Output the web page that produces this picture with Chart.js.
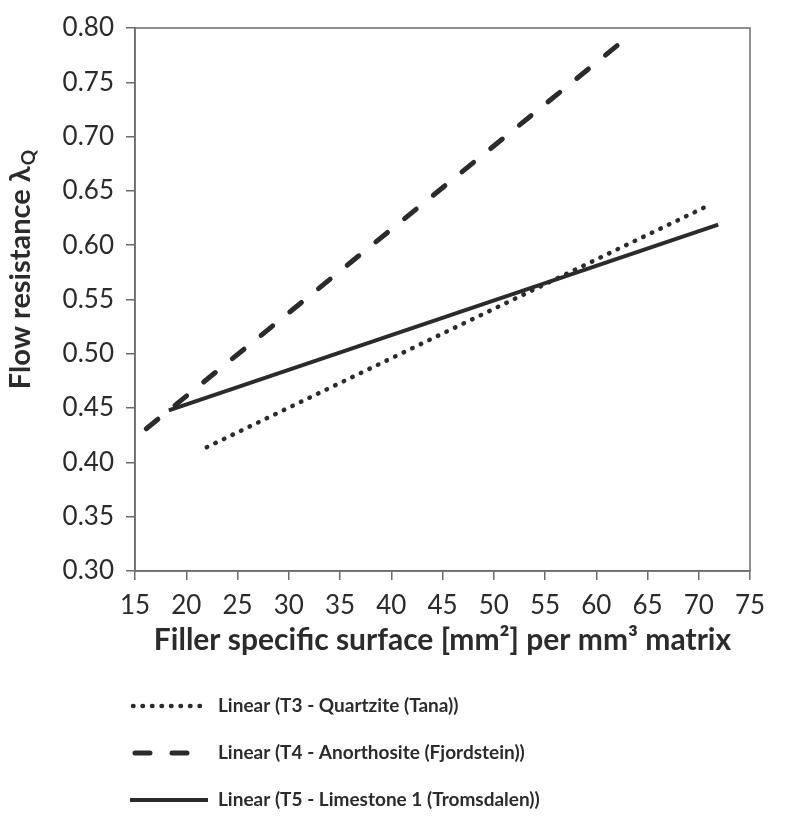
<!DOCTYPE html>
<html>
<head>
<meta charset="utf-8">
<script src="https://cdn.jsdelivr.net/npm/chart.js@4/dist/chart.umd.min.js"></script>
<style>
  html, body { margin: 0; padding: 0; background: #fff; }
  #wrap { width: 789px; height: 820px; }
</style>
</head>
<body>
<div id="wrap"><canvas id="myChart" width="789" height="820"></canvas></div>
<script>
"use strict";

// trendline end points
const seriesLabels = [
    'Linear (T3 - Quartzite (Tana))',
    'Linear (T4 - Anorthosite (Fjordstein))',
    'Linear (T5 - Limestone 1 (Tromsdalen))'
];
const t3X = [22.0, 70.6];
const t3Y = [0.414, 0.635];
const t4X = [16.1, 63.5];
const t4Y = [0.431, 0.795];
const t5X = [18.3, 71.9];
const t5Y = [0.448, 0.619];

const xTicks = [15, 20, 25, 30, 35, 40, 45, 50, 55, 60, 65, 70, 75];
const yTicks = [0.30, 0.35, 0.40, 0.45, 0.50, 0.55, 0.60, 0.65, 0.70, 0.75, 0.80];

const INK = '#2b2b2b';
const AXIS = '#6b6b6b';
const FONT = 'Lato, "Open Sans", sans-serif';

function toPoints(xs, ys) {
    return xs.map((x, i) => ({ x: x, y: ys[i] }));
}

// frame round the plot area, y title with subscript, legend below
const decorations = {
    id: 'decorations',
    afterDraw(chart) {
        const ctx = chart.ctx;
        const a = chart.chartArea;
        ctx.save();
        ctx.strokeStyle = AXIS;
        ctx.lineWidth = 1.5;
        ctx.strokeRect(a.left, a.top, a.right - a.left, a.bottom - a.top);

        // y title
        ctx.translate(21, 270);
        ctx.rotate(-Math.PI / 2);
        ctx.fillStyle = INK;
        ctx.textBaseline = 'middle';
        const main = 'Flow resistance λ';
        ctx.font = 'bold 29px ' + FONT;
        const w1 = ctx.measureText(main).width;
        ctx.font = 'bold 19px ' + FONT;
        const w2 = ctx.measureText('Q').width;
        const start = -(w1 + w2) / 2;
        ctx.font = 'bold 29px ' + FONT;
        ctx.textAlign = 'left';
        ctx.fillText(main, start, 0);
        ctx.font = 'bold 19px ' + FONT;
        ctx.fillText('Q', start + w1 + 1, 8);
        ctx.restore();

        // legend
        ctx.save();
        ctx.font = 'bold 19px ' + FONT;
        ctx.fillStyle = INK;
        ctx.textBaseline = 'middle';
        chart.data.datasets.forEach((ds, i) => {
            const y = 706 + i * 47;
            ctx.beginPath();
            ctx.strokeStyle = ds.borderColor;
            ctx.lineWidth = ds.borderWidth;
            ctx.lineCap = ds.borderCapStyle;
            ctx.setLineDash(ds.legendDash);
            ctx.moveTo(ds.legendStart, y);
            ctx.lineTo(208, y);
            ctx.stroke();
            ctx.setLineDash([]);
            ctx.fillText(ds.label, 218, y);
        });
        ctx.restore();
    }
};

const myChart = new Chart(document.getElementById('myChart'), {
    type: 'scatter',
    data: {
        datasets: [
            {
                label: seriesLabels[0],
                data: toPoints(t3X, t3Y),
                showLine: true,
                borderColor: INK,
                borderWidth: 4.5,
                borderDash: [0.5, 9],
                borderCapStyle: 'round',
                legendDash: [0.5, 9],
                legendStart: 133,
                pointRadius: 0
            },
            {
                label: seriesLabels[1],
                data: toPoints(t4X, t4Y),
                showLine: true,
                borderColor: INK,
                borderWidth: 5,
                borderDash: [15, 22],
                borderCapStyle: 'round',
                legendDash: [15, 22],
                legendStart: 135,
                pointRadius: 0
            },
            {
                label: seriesLabels[2],
                data: toPoints(t5X, t5Y),
                showLine: true,
                borderColor: INK,
                borderWidth: 4,
                borderDash: [],
                borderCapStyle: 'butt',
                legendDash: [],
                legendStart: 130,
                pointRadius: 0
            }
        ]
    },
    options: {
        responsive: false,
        animation: false,
        layout: { padding: { left: 0, right: 39, top: 28, bottom: 159 } },
        plugins: {
            legend: { display: false },
            tooltip: { enabled: false }
        },
        scales: {
            x: {
                type: 'linear',
                min: 15,
                max: 75,
                afterBuildTicks: s => { s.ticks = xTicks.map(v => ({ value: v })); },
                afterFit: s => { s.height = 90; },
                grid: { drawOnChartArea: false, drawTicks: true, tickLength: 9, color: AXIS, lineWidth: 1.5 },
                border: { color: AXIS, width: 1.5 },
                ticks: {
                    color: INK,
                    font: { family: FONT, size: 26 },
                    padding: 10,
                    maxRotation: 0
                },
                title: {
                    display: true,
                    text: 'Filler specific surface [mm²] per mm³ matrix',
                    color: INK,
                    font: { family: FONT, size: 30, weight: 'bold' },
                    padding: { top: 4, bottom: 3 }
                }
            },
            y: {
                type: 'linear',
                min: 0.30,
                max: 0.80,
                afterBuildTicks: s => { s.ticks = yTicks.map(v => ({ value: v })); },
                afterFit: s => { s.width = 135; },
                grid: { drawOnChartArea: false, drawTicks: true, tickLength: 9, color: AXIS, lineWidth: 1.5 },
                border: { color: AXIS, width: 1.5 },
                ticks: {
                    color: INK,
                    font: { family: FONT, size: 26 },
                    padding: 12,
                    callback: v => v.toFixed(2)
                }
            }
        }
    },
    plugins: [decorations]
});
</script>
</body>
</html>
